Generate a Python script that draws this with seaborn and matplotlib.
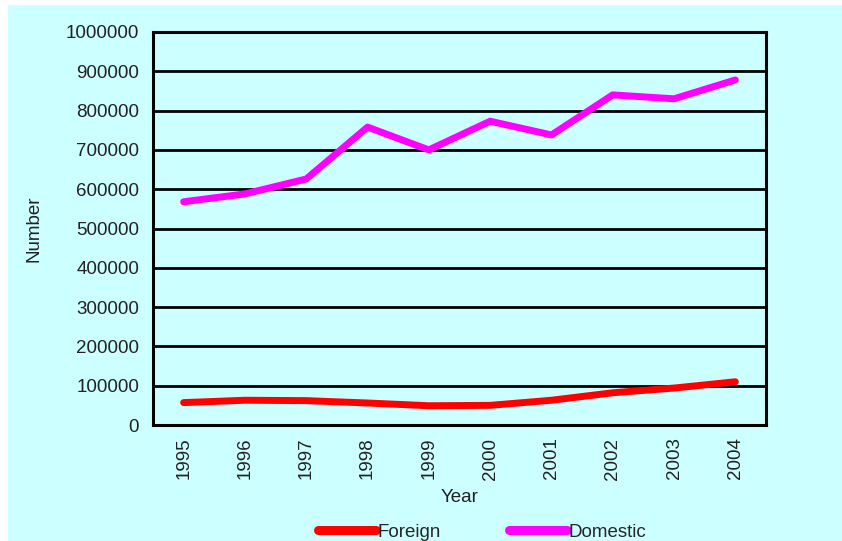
import matplotlib
matplotlib.use('Agg')
import matplotlib.pyplot as plt
from matplotlib.patches import Rectangle
import seaborn as sns
import pandas as pd
import numpy as np

years = [1995, 1996, 1997, 1998, 1999, 2000, 2001, 2002, 2003, 2004]
foreign = [57000, 63000, 62000, 56000, 49000, 50000, 63000, 82000, 94000, 110000]
domestic = [568000, 588000, 626000, 758000, 700000, 773000, 738000, 840000, 830000, 878000]
series_names = ['Foreign', 'Domestic']
series_colors = ['#FF0000', '#FF00FF']
y_ticks = list(range(0, 1000001, 100000))

df = pd.DataFrame({'Year': years * 2,
                   'Number': foreign + domestic,
                   'Series': ['Foreign'] * len(years) + ['Domestic'] * len(years)})

bg = '#CCFFFF'
txt = '#222222'
sns.set_style('white')
plt.rcParams['font.family'] = ['Liberation Sans', 'DejaVu Sans']

fig = plt.figure(figsize=(8.42, 5.41), dpi=100)
fig.patch.set_facecolor('white')
fig.add_artist(Rectangle((8 / 842, 0), 1, (541 - 5) / 541, transform=fig.transFigure,
                         facecolor=bg, edgecolor='none', zorder=-10))
ax = fig.add_axes([153 / 842, 1 - 425 / 541, (766 - 153) / 842, (425 - 32) / 541])
ax.set_facecolor(bg)

sns.lineplot(data=df, x='Year', y='Number', hue='Series', hue_order=series_names,
             palette=series_colors, linewidth=5, ax=ax, legend=False, zorder=5)

ax.set_xlim(years[0] - 0.5, years[-1] + 0.5)
ax.set_ylim(0, 1000000)
ax.set_yticks(y_ticks)
ax.set_yticklabels([str(v) for v in y_ticks], fontsize=13.5, color=txt)
ax.set_xticks(years)
ax.set_xticklabels([str(y) for y in years], rotation=90, fontsize=13.5, color=txt)
ax.set_xticks(np.arange(years[0] - 0.5, years[-1] + 1, 1), minor=True)
ax.tick_params(axis='x', which='major', length=0, pad=9)
ax.tick_params(axis='x', which='minor', length=6, width=2, color='black', direction='out')
ax.tick_params(axis='y', length=6, width=2, color='black', direction='out', pad=4)

for v in y_ticks[1:-1]:
    ax.axhline(v, color='black', linewidth=2, zorder=1)
for s in ax.spines.values():
    s.set_visible(True)
    s.set_color('black')
    s.set_linewidth(2.2)

ax.set_xlabel('Year', fontsize=13.5, color=txt, labelpad=7)
ax.set_ylabel('Number', fontsize=13.5, color=txt, labelpad=17)

handles = [plt.Line2D([], [], color=c, linewidth=6.5) for c in series_colors]
fig.legend(handles, series_names, loc='center', bbox_to_anchor=(482 / 842, 1 - 532 / 541),
           ncol=2, frameon=False, fontsize=13.5, handlelength=3.1, columnspacing=3.6,
           handletextpad=0.1, borderpad=0)

fig.savefig('out.png', dpi=100, facecolor=fig.get_facecolor())
